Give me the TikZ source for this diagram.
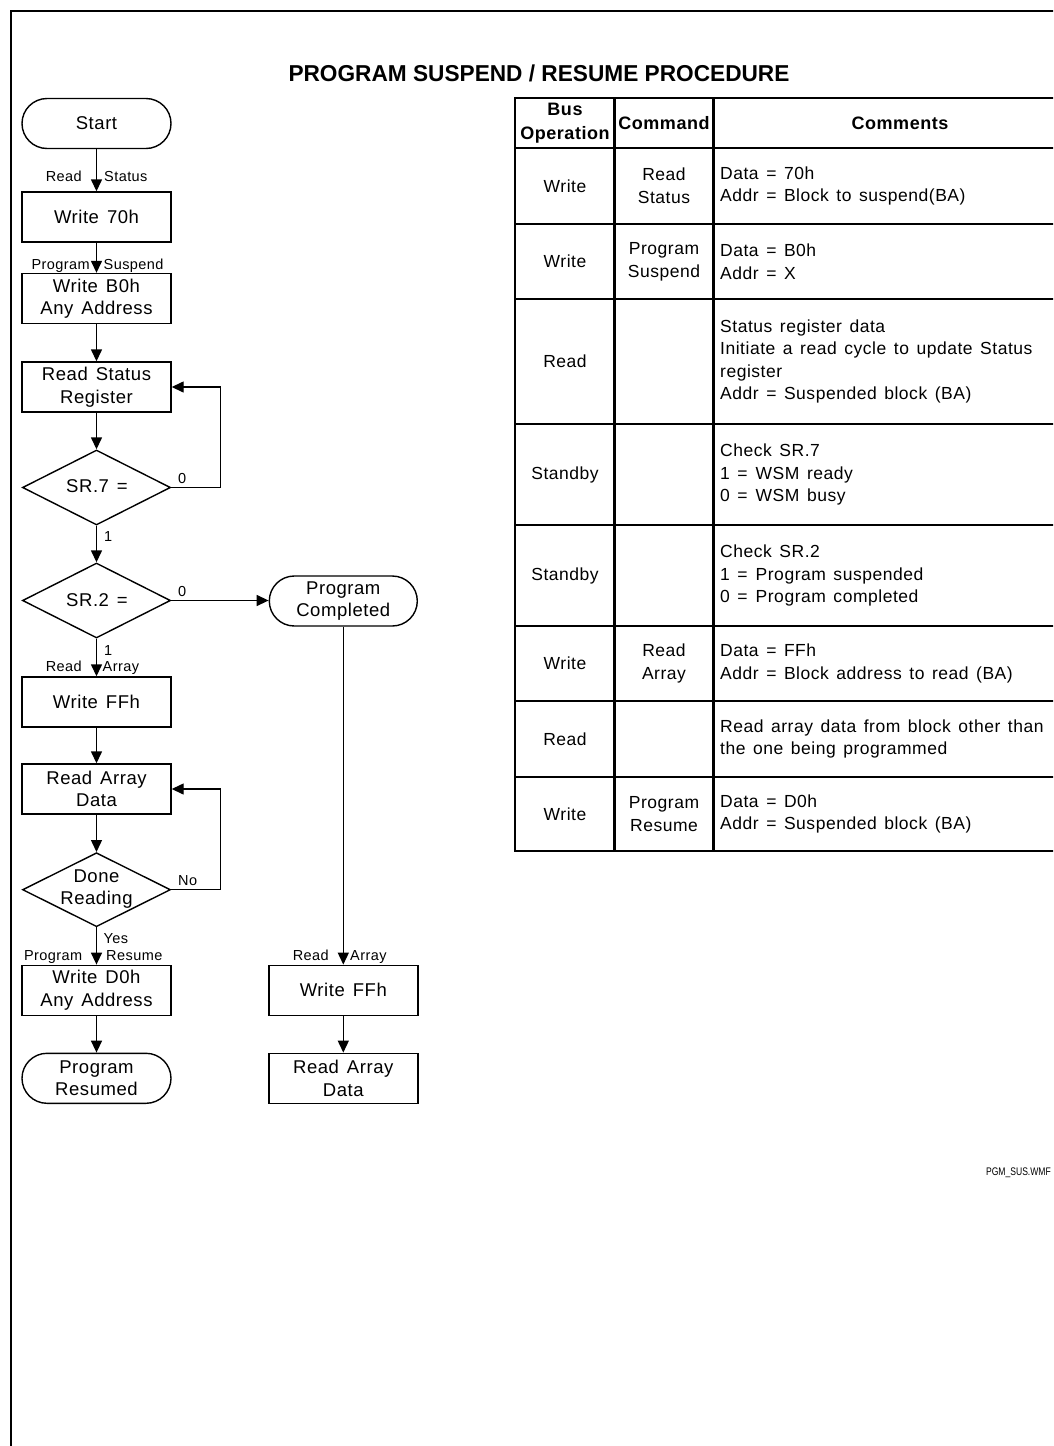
\documentclass[tikz,border=0pt]{standalone}
\usepackage{fontspec}
\setmainfont[LetterSpace=3,WordSpace=1.4]{Liberation Sans}
\newfontfamily\fcPlain{Liberation Sans}
\usetikzlibrary{arrows.meta,shapes.geometric}
\newcommand\fcBox{\fontsize{18.5}{22.5}\selectfont}
\newcommand\fcLab{\fontsize{14.5}{17}\selectfont}
\newcommand\fcTab{\fontsize{17.5}{22.6}\selectfont}
\newcommand\fcHead{\bfseries\fontsize{18}{24}\selectfont}
\newcommand\fcTitle{\fcPlain\bfseries\fontsize{23}{26}\selectfont}
\newcommand\fcTag{\fcPlain\fontsize{11}{13}\selectfont}
\tikzset{
  fbox/.style={draw, line width=1.4pt, minimum width=149pt, minimum height=50pt, inner sep=0pt, align=center, font=\fcBox},
  fterm/.style={fbox, rounded corners=25pt},
  fdia/.style={draw, diamond, line width=1.4pt, minimum width=148pt, minimum height=75pt, inner sep=0pt},
  dtext/.style={inner sep=0pt, align=center, font=\fcBox},
  arr/.style={-{Triangle[width=11pt,length=12pt]}, line width=1.4pt},
  lab/.style={inner sep=0pt, font=\fcLab},
  tab/.style={line width=2.2pt},
  tcell/.style={inner sep=0pt, align=center, font=\fcTab},
  tcom/.style={inner sep=0pt, align=left, anchor=west, font=\fcTab},
  thead/.style={inner sep=0pt, align=center, font=\fcHead},
}
\begin{document}
\begin{tikzpicture}[x=1pt,y=-1pt]
\useasboundingbox (0,0) rectangle (1053,1446);
\clip (0,0) rectangle (1053,1446);
\fill[white] (0,0) rectangle (1053,1446);
% frame
\draw[line width=2pt] (11,1460) -- (11,11) -- (1070,11);
% title
\node[inner sep=0pt, font=\fcTitle, xscale=0.985] (title) at (539,73) {PROGRAM SUSPEND / RESUME PROCEDURE};

% flowchart
\node[fterm] (start) at (96.5,123.5) {Start};
\node[fbox] (w70) at (96.5,217) {Write 70h};
\node[fbox] (wb0) at (96.5,298.5) {Write B0h\\Any Address};
\node[fbox] (rsr) at (96.5,387) {Read Status\\Register};
\node[fdia] (sr7) at (96.5,487.5) {};
\node[dtext] (sr7t) at (97,486.5) {SR.7 =};
\node[fdia] (sr2) at (96.5,600.5) {};
\node[dtext] (sr2t) at (97,600) {SR.2 =};
\node[fterm, minimum width=148pt] (pc) at (343.3,601) {Program\\Completed};
\node[fbox] (wff1) at (96.5,702) {Write FFh};
\node[fbox] (rad1) at (96.5,789) {Read Array\\Data};
\node[fdia, minimum height=74pt] (dr) at (96.5,889.7) {};
\node[dtext] (drt) at (96.5,889) {Done\\Reading};
\node[fbox] (wd0) at (96.5,990.3) {Write D0h\\Any Address};
\node[fterm] (pr) at (96.5,1078.3) {Program\\Resumed};
\node[fbox] (wff2) at (343.3,990.3) {Write FFh};
\node[fbox] (rad2) at (343.3,1078.3) {Read Array\\Data};

\draw[arr] (start) -- (w70);
\draw[arr] (w70) -- (wb0);
\draw[arr] (wb0) -- (rsr);
\draw[arr] (rsr) -- (sr7);
\draw[arr] (sr7.east) -- ++(49.5,0) |- (rsr.east);
\draw[arr] (sr7) -- (sr2);
\draw[arr] (sr2.east) -- (sr2.east -| pc.west);
\draw[arr] (sr2) -- (wff1);
\draw[arr] (wff1) -- (rad1);
\draw[arr] (rad1) -- (dr);
\draw[arr] (dr.east) -- ++(49.5,0) |- (rad1.east);
\draw[arr] (dr) -- (wd0);
\draw[arr] (wd0) -- (pr);
\draw[arr] (pc) -- (wff2);
\draw[arr] (wff2) -- (rad2);

% connector labels
\node[lab, anchor=base east] (l1) at (82,181) {Read};
\node[lab, anchor=base west] (l2) at (104,181) {Status};
\node[lab, anchor=base east] (l3) at (90,269) {Program};
\node[lab, anchor=base west] (l4) at (103.5,269) {Suspend};
\node[lab, anchor=base west] (l5) at (178,483.5) {0};
\node[lab, anchor=base west] (l6) at (104,541.5) {1};
\node[lab, anchor=base west] (l7) at (178,596) {0};
\node[lab, anchor=base west] (l8) at (104,655) {1};
\node[lab, anchor=base east] (l9) at (82,671.5) {Read};
\node[lab, anchor=base west] (l10) at (102.5,671.5) {Array};
\node[lab, anchor=base west] (l11) at (178,885) {No};
\node[lab, anchor=base west] (l12) at (103.5,943) {Yes};
\node[lab, anchor=base east] (l13) at (82.5,960) {Program};
\node[lab, anchor=base west] (l14) at (106,960) {Resume};
\node[lab, anchor=base east] (l15) at (329,960) {Read};
\node[lab, anchor=base west] (l16) at (350,960) {Array};

% table
\draw[tab] (515,98) rectangle (1087,851);
\foreach \yy in {148,224,299,424,525,626,701,777} \draw[tab] (515,\yy) -- (1087,\yy);
\draw[tab] (614.5,98) -- (614.5,851);
\draw[tab] (713.5,98) -- (713.5,851);

\node[thead] (h1) at (565,123) {Bus\\Operation};
\node[thead] (h2) at (664,123) {Command};
\node[thead] (h3) at (900,123) {Comments};

\node[tcell] (a1) at (565,186) {Write};
\node[tcell] (b1) at (664,186) {Read\\Status};
\node[tcom] (c1) at (720,186) {Data = 70h\\Addr = Block to suspend(BA)};

\node[tcell] (a2) at (565,261.5) {Write};
\node[tcell] (b2) at (664,261.5) {Program\\Suspend};
\node[tcom] (c2) at (720,261.5) {Data = B0h\\Addr = X};

\node[tcell] (a3) at (565,361.5) {Read};
\node[tcom] (c3) at (720,361.5) {Status register data\\Initiate a read cycle to update Status\\register\\Addr = Suspended block (BA)};

\node[tcell] (a4) at (565,474.5) {Standby};
\node[tcom] (c4) at (720,474.5) {Check SR.7\\1 =\hspace{8pt}WSM ready\\0 =\hspace{8pt}WSM busy};

\node[tcell] (a5) at (565,575.5) {Standby};
\node[tcom] (c5) at (720,575.5) {Check SR.2\\1 =\hspace{8pt}Program suspended\\0 =\hspace{8pt}Program completed};

\node[tcell] (a6) at (565,663.5) {Write};
\node[tcell] (b6) at (664,663.5) {Read\\Array};
\node[tcom] (c6) at (720,663.5) {Data = FFh\\Addr = Block address to read (BA)};

\node[tcell] (a7) at (565,739) {Read};
\node[tcom] (c7) at (720,739) {Read array data from block other than\\the one being programmed};

\node[tcell] (a8) at (565,814) {Write};
\node[tcell] (b8) at (664,814) {Program\\Resume};
\node[tcom] (c8) at (720,814) {Data = D0h\\Addr = Suspended block (BA)};

% file tag
\node[inner sep=0pt, anchor=base east, font=\fcTag, xscale=0.78] (tag) at (1051,1175) {PGM\_SUS.WMF};
\end{tikzpicture}
\end{document}
